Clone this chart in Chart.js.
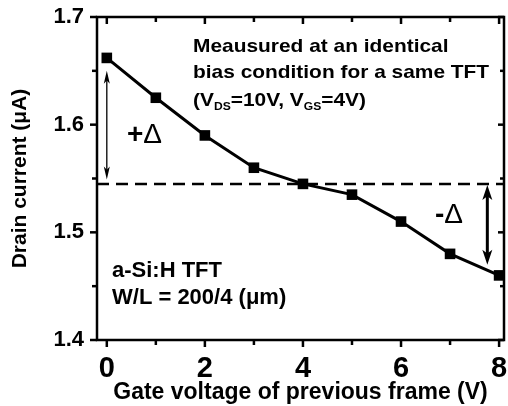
<!DOCTYPE html>
<html>
<head>
<meta charset="utf-8">
<script src="https://cdn.jsdelivr.net/npm/chart.js@4/dist/chart.umd.min.js"></script>
<style>
html,body{margin:0;padding:0;background:#fff;}
#wrap{width:508px;height:406px;}
</style>
</head>
<body>
<div id="wrap"><canvas id="c" width="508" height="406"></canvas></div>
<script>
// ---- data ----
const gateVoltage = [0, 1, 2, 3, 4, 5, 6, 7, 8];
const drainCurrent = [1.662, 1.625, 1.590, 1.560, 1.545, 1.535, 1.510, 1.480, 1.460];
const referenceLevel = 1.545;
const xTicks = [0, 1, 2, 3, 4, 5, 6, 7, 8];
const xTickLabels = [0, 2, 4, 6, 8];
const yTicks = [1.4, 1.45, 1.5, 1.55, 1.6, 1.65, 1.7];
const yTickLabels = [1.4, 1.5, 1.6, 1.7];
const xRange = [-0.2, 8.1];
const yRange = [1.4, 1.7];
// double-headed arrows: x position, top value, bottom value
const arrowX = [0, 7.76];
const arrowTop = [1.650, 1.544];
const arrowBottom = [1.549, 1.470];

const FONT = '"Liberation Sans", Arial, sans-serif';

function stretchText(ctx, text, x, y, sx) {
  ctx.save();
  ctx.translate(x, y);
  ctx.scale(sx, 1);
  ctx.fillText(text, 0, 0);
  const w = ctx.measureText(text).width * sx;
  ctx.restore();
  return w;
}

function drawSeg(ctx, x1, y1, x2, y2) {
  ctx.beginPath();
  ctx.moveTo(x1, y1);
  ctx.lineTo(x2, y2);
  ctx.stroke();
}

const decor = {
  id: 'decor',
  afterDraw(chart) {
    const ctx = chart.ctx;
    const a = chart.chartArea;
    const xs = chart.scales.x, ys = chart.scales.y;
    ctx.save();
    ctx.setLineDash([]);
    ctx.strokeStyle = '#000';
    ctx.fillStyle = '#000';
    // frame
    ctx.lineWidth = 2.5;
    ctx.strokeRect(a.left, a.top, a.right - a.left, a.bottom - a.top);
    // ticks
    ctx.lineWidth = 2.5;
    for (let i = 0; i < xTicks.length; i++) {
      const v = xTicks[i];
      const px = xs.getPixelForValue(v);
      const L = (v % 2 === 0) ? 7 : 5;
      drawSeg(ctx, px, a.bottom, px, a.bottom + L);
      drawSeg(ctx, px, a.top, px, a.top + L);
    }
    for (let i = 0; i < yTicks.length; i++) {
      const v = yTicks[i];
      const py = ys.getPixelForValue(v);
      const L = (i % 2 === 0) ? 7 : 5;
      drawSeg(ctx, a.left, py, a.left - L, py);
      drawSeg(ctx, a.right, py, a.right + 1 - L, py);
    }
    // arrows
    arrowX.forEach((xv, i) => {
      const px = xs.getPixelForValue(xv);
      const y1 = ys.getPixelForValue(arrowTop[i]);
      const y2 = ys.getPixelForValue(arrowBottom[i]);
      const thick = i === 1;
      const lw = thick ? 3 : 1.3;
      const hw = thick ? 5 : 3;
      const hl = thick ? 15 : 13;
      ctx.lineWidth = lw;
      drawSeg(ctx, px, y1 + hl * 0.6, px, y2 - hl * 0.6);
      [[y1, 1], [y2, -1]].forEach(([y, d]) => {
        ctx.beginPath();
        ctx.moveTo(px, y);
        ctx.lineTo(px - hw, y + d * hl);
        ctx.lineTo(px, y + d * hl * 0.75);
        ctx.lineTo(px + hw, y + d * hl);
        ctx.closePath();
        ctx.fill();
      });
    });
    // annotation texts
    ctx.textBaseline = 'alphabetic';
    ctx.textAlign = 'left';
    const f = (s) => 'bold ' + s + 'px ' + FONT;
    const SX = 1.1;
    ctx.font = f(19);
    stretchText(ctx, 'Meausured at an identical', 193, 52, SX);
    stretchText(ctx, 'bias condition for a same TFT', 193, 78, SX);
    let x = 193;
    const parts = [['(V', 19, 0], ['DS', 11, 4], ['=10V, V', 19, 0], ['GS', 11, 4], ['=4V)', 19, 0]];
    parts.forEach(([t, s, dy]) => {
      ctx.font = f(s);
      x += stretchText(ctx, t, x, 106 + dy, SX);
    });
    // +Δ and -Δ
    ctx.font = f(28);
    let w = stretchText(ctx, '+', 127, 143, 1.0);
    ctx.font = '28px ' + FONT;
    stretchText(ctx, 'Δ', 127 + w, 143, 1.0);
    ctx.font = f(28);
    w = stretchText(ctx, '-', 435, 223, 1.0);
    ctx.font = '28px ' + FONT;
    stretchText(ctx, 'Δ', 435 + w, 223, 1.0);
    // device text
    ctx.font = f(22);
    ctx.fillText('a-Si:H TFT', 112, 277);
    ctx.fillText('W/L = 200/4 (μm)', 112, 304);
    ctx.restore();
  }
};

new Chart(document.getElementById('c'), {
  type: 'line',
  data: {
    datasets: [
      {
        data: gateVoltage.map((v, i) => ({x: v, y: drainCurrent[i]})),
        borderColor: '#000', backgroundColor: '#000',
        borderWidth: 3, pointStyle: 'rect', pointRadius: 7.5,
        pointBorderWidth: 0, tension: 0
      },
      {
        data: [{x: xRange[0], y: referenceLevel}, {x: xRange[1], y: referenceLevel}],
        borderColor: '#000', borderWidth: 2.5, borderDash: [12, 7],
        pointRadius: 0, tension: 0
      }
    ]
  },
  options: {
    responsive: false, animation: false, devicePixelRatio: 1,
    layout: {autoPadding: false, padding: {top: 17, right: 4, left: 0, bottom: 0}},
    plugins: {legend: {display: false}, tooltip: {enabled: false}},
    scales: {
      x: {
        type: 'linear', min: xRange[0], max: xRange[1],
        afterBuildTicks: s => { s.ticks = xTickLabels.map(v => ({value: v})); },
        afterFit: s => { s.height = 66; s.paddingLeft = 0; s.paddingRight = 0; },
        grid: {display: false}, border: {display: false},
        ticks: {color: '#000', padding: 4, maxRotation: 0, autoSkip: false,
          font: {family: FONT, weight: 'bold', size: 29}},
        title: {display: true, text: 'Gate voltage of previous frame (V)', color: '#000',
          font: {family: FONT, weight: 'bold', size: 23}, padding: {top: -9, bottom: 0}}
      },
      y: {
        type: 'linear', min: yRange[0], max: yRange[1],
        afterBuildTicks: s => { s.ticks = yTickLabels.map(v => ({value: v})); },
        afterFit: s => { s.width = 97; s.paddingTop = 0; s.paddingBottom = 0; },
        grid: {display: false}, border: {display: false},
        ticks: {color: '#000', padding: 5, autoSkip: false,
          callback: v => v.toFixed(1),
          font: {family: FONT, weight: 'bold', size: 22}},
        title: {display: true, text: 'Drain current (μA)', color: '#000',
          font: {family: FONT, weight: 'bold', size: 21}, padding: {top: 8, bottom: 0}}
      }
    }
  },
  plugins: [decor]
});
</script>
</body>
</html>
